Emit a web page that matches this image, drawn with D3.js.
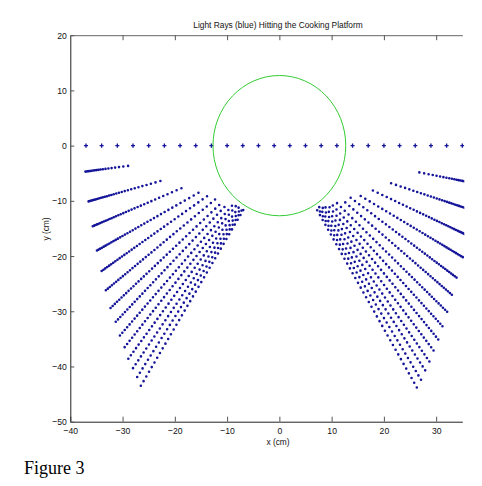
<!DOCTYPE html>
<html>
<head>
<meta charset="utf-8">
<script src="https://cdn.jsdelivr.net/npm/d3@7"></script>
<style>
  body { margin: 0; background: #fff; }
  text { font-family: "Liberation Sans", Arial, sans-serif; }
</style>
</head>
<body>
<div id="chart"></div>
<script>
// points of the row at y = 0
var rowX = [-37, -34, -31, -28, -25, -22, -19, -16, -13, -10, -7, -4, -1,
            2, 5, 8, 11, 14, 17, 20, 23, 26, 29, 32, 35];
var rowY = 0;

// left fan of rays: outer end -> inner end (cm)
var leftOuterX = [-37.1, -36.5, -35.7, -34.9, -34.0, -33.2, -32.3, -31.3, -30.5, -29.6, -28.9, -28.0, -27.2, -26.5];
var leftOuterY = [-4.7, -10.1, -14.6, -19.0, -22.7, -26.2, -29.4, -31.9, -34.4, -36.5, -38.6, -40.3, -41.9, -43.5];
var leftInnerX = [-28.4, -22.0, -18.2, -15.4, -13.6, -12.1, -10.8, -9.8, -8.9, -8.3, -7.7, -7.3, -7.0, -6.8];
var leftInnerY = [-3.6, -6.2, -7.5, -8.5, -9.0, -9.6, -10.1, -10.4, -10.7, -10.9, -11.1, -11.3, -11.4, -11.5];

// right fan of rays
var rightOuterX = [37.5, 37.0, 36.2, 35.1, 33.9, 33.0, 32.1, 31.2, 30.4, 29.5, 28.7, 27.9, 27.1, 26.3];
var rightOuterY = [-6.85, -11.75, -16.35, -20.2, -23.9, -27.0, -30.1, -32.7, -35.1, -37.1, -39.1, -40.7, -42.4, -43.8];
var rightInnerX = [26.0, 20.7, 17.4, 15.0, 13.3, 11.9, 10.8, 9.9, 9.2, 8.6, 8.1, 7.6, 7.3, 7.0];
var rightInnerY = [-4.7, -6.6, -7.9, -8.8, -9.2, -9.7, -10.2, -10.5, -10.7, -10.9, -11.0, -11.1, -11.2, -11.3];

// cooking platform
var platformX = 0, platformY = 0, platformR = 12.7;

var xTicks = [-40, -30, -20, -10, 0, 10, 20, 30];
var yTicks = [20, 10, 0, -10, -20, -30, -40, -50];

var svgWidth = 482;
var svgHeight = 486;
var blue = "#15159a";

var svg = d3.select("#chart")
    .append("svg")
    .attr("width", svgWidth)
    .attr("height", svgHeight);

var x = d3.scaleLinear().domain([-40, 35]).range([70.3, 462.3]);
var y = d3.scaleLinear().domain([-50, 20]).range([421.7, 35.2]);

svg.append("clipPath").attr("id", "plotclip")
    .append("rect")
    .attr("x", x(-40)).attr("y", y(20))
    .attr("width", x(35) - x(-40) + 2).attr("height", y(-50) - y(20));

var plot = svg.append("g").attr("clip-path", "url(#plotclip)");

// build rays from the arrays
function rays(ox, oy, ix, iy) {
    return ox.map(function (d, i) {
        return { x0: ox[i], y0: oy[i], x1: ix[i], y1: iy[i], k: i / (ox.length - 1) };
    });
}
var allRays = rays(leftOuterX, leftOuterY, leftInnerX, leftInnerY)
    .concat(rays(rightOuterX, rightOuterY, rightInnerX, rightInnerY));

// dots along a ray: dense at the outer end, sparser toward the platform
function dotPattern(d) {
    var L = Math.hypot(x(d.x1) - x(d.x0), y(d.y1) - y(d.y0));
    var g0 = 0.8 + 4.6 * d.k, g1 = 5.6;
    var arr = [], s = 0;
    while (s <= L) {
        var g = g0 + (g1 - g0) * s / L;
        arr.push(0, g);
        s += g;
    }
    return arr.join(" ");
}

plot.selectAll("line.ray")
    .data(allRays)
    .enter()
    .append("line")
    .attr("class", "ray")
    .attr("x1", function (d) { return x(d.x0); })
    .attr("y1", function (d) { return y(d.y0); })
    .attr("x2", function (d) { return x(d.x1); })
    .attr("y2", function (d) { return y(d.y1); })
    .attr("stroke", blue)
    .attr("stroke-width", 2.6)
    .attr("stroke-linecap", "round")
    .attr("stroke-dasharray", dotPattern);

// row of markers at y = 0
plot.selectAll("path.row")
    .data(rowX)
    .enter()
    .append("path")
    .attr("class", "row")
    .attr("d", d3.symbol(d3.symbolCross).size(9))
    .attr("transform", function (d) {
        return "translate(" + [x(d), y(rowY)] + ")";
    })
    .attr("fill", blue);

// platform circle
plot.append("ellipse")
    .attr("cx", x(platformX))
    .attr("cy", y(platformY))
    .attr("rx", x(platformR) - x(0))
    .attr("ry", y(0) - y(platformR))
    .attr("fill", "none")
    .attr("stroke", "#33cc33")
    .attr("stroke-width", 1);

// axes, ticks pointing inward
var xAxis = svg.append("g")
    .attr("transform", "translate(0," + y(-50) + ")")
    .call(d3.axisBottom(x).tickValues(xTicks).tickSizeInner(-5).tickSizeOuter(0).tickPadding(5));
var topAxis = svg.append("g")
    .attr("transform", "translate(0," + y(20) + ")")
    .call(d3.axisTop(x).tickValues(xTicks.slice(1)).tickSizeInner(-5).tickSizeOuter(0).tickFormat(""));
var yAxis = svg.append("g")
    .attr("transform", "translate(" + x(-40) + ",0)")
    .call(d3.axisLeft(y).tickValues(yTicks).tickSizeInner(-4).tickSizeOuter(0).tickPadding(4));

[xAxis, topAxis, yAxis].forEach(function (g) {
    g.select(".domain").attr("stroke", "#222").attr("stroke-width", 1);
    g.selectAll(".tick line").attr("stroke", "#555");
    g.selectAll(".tick text")
        .attr("fill", "#111")
        .style("font-size", "9.8px")
        .attr("transform", "scale(0.88,1)");
});
topAxis.select(".domain").attr("stroke", "#666");

// titles and labels
svg.append("text")
    .attr("transform", "translate(278,27.5) scale(0.88,1)")
    .attr("text-anchor", "middle")
    .style("font-size", "9.5px")
    .attr("fill", "#111")
    .text("Light Rays (blue) Hitting the Cooking Platform");

svg.append("text")
    .attr("transform", "translate(278,444.5) scale(0.88,1)")
    .attr("text-anchor", "middle")
    .style("font-size", "9.5px")
    .attr("fill", "#111")
    .text("x (cm)");

svg.append("text")
    .attr("transform", "translate(48.5,229) rotate(-90) scale(0.88,1)")
    .attr("text-anchor", "middle")
    .style("font-size", "9.5px")
    .attr("fill", "#111")
    .text("y (cm)");

svg.append("text")
    .attr("x", 24)
    .attr("y", 474)
    .style("font-family", "'Liberation Serif', 'Times New Roman', serif")
    .style("font-size", "18px")
    .attr("fill", "#000")
    .text("Figure 3");
</script>
</body>
</html>
